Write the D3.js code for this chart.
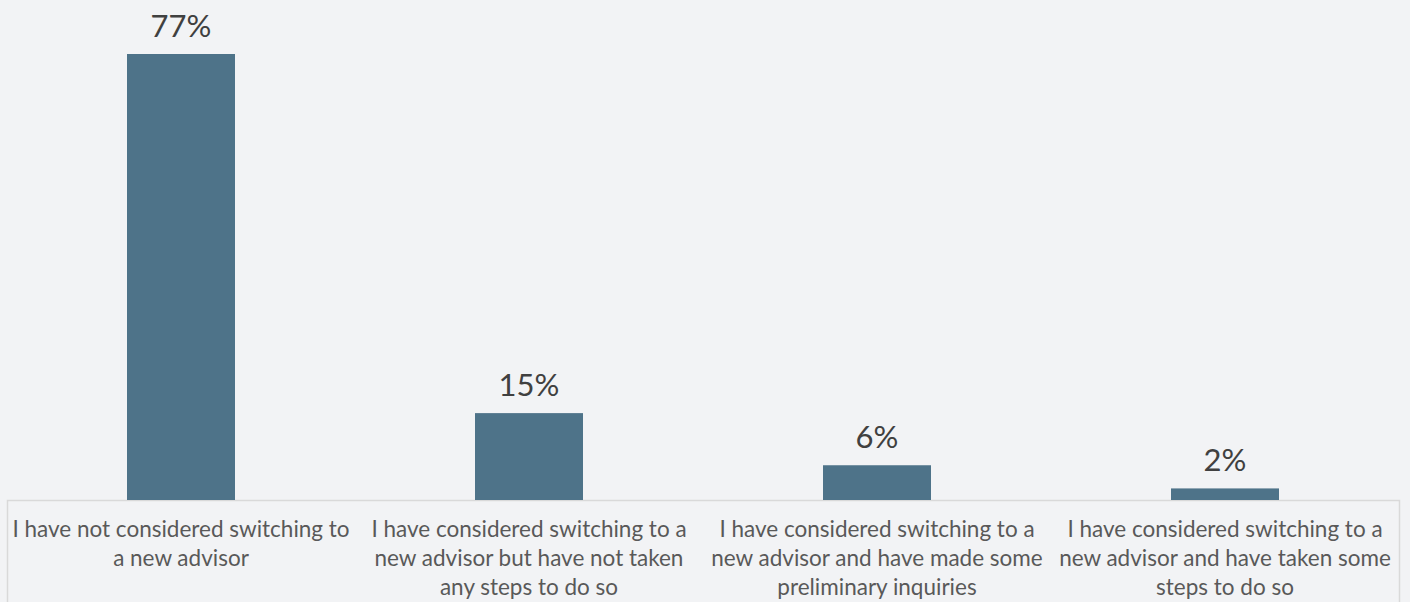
<!DOCTYPE html>
<html>
<head>
<meta charset="utf-8">
<script src="https://cdn.jsdelivr.net/npm/d3@7"></script>
<style>
  html, body { margin: 0; padding: 0; background: #f2f3f5; }
  svg { display: block; }
</style>
</head>
<body>
<svg id="chart" width="1410" height="602"></svg>
<script>
// Survey responses on switching financial advisors
const categories = [
  "I have not considered switching to a new advisor",
  "I have considered switching to a new advisor but have not taken any steps to do so",
  "I have considered switching to a new advisor and have made some preliminary inquiries",
  "I have considered switching to a new advisor and have taken some steps to do so"
];
const categoryLines = [
  ["I have not considered switching to", "a new advisor"],
  ["I have considered switching to a", "new advisor but have not taken", "any steps to do so"],
  ["I have considered switching to a", "new advisor and have made some", "preliminary inquiries"],
  ["I have considered switching to a", "new advisor and have taken some", "steps to do so"]
];
const values = [77, 15, 6, 2];

const svg = d3.select("#chart");
const plot = { left: 7, right: 1399, top: 54, bottom: 500 };

const x = d3.scaleBand()
  .domain(categories)
  .range([plot.left, plot.right])
  .paddingInner(0)
  .paddingOuter(0);

const y = d3.scaleLinear()
  .domain([0, 77])
  .range([plot.bottom, plot.top]);

const barW = 108;

// category box under the axis
svg.append("rect")
  .attr("x", plot.left + 0.5)
  .attr("y", plot.bottom + 0.5)
  .attr("width", plot.right - plot.left)
  .attr("height", 200)
  .attr("fill", "none")
  .attr("stroke", "#d9d9d9")
  .attr("stroke-width", 1.5);

// bars
svg.selectAll("rect.bar")
  .data(values)
  .enter().append("rect")
  .attr("class", "bar")
  .attr("x", (d, i) => x(categories[i]) + x.bandwidth() / 2 - barW / 2)
  .attr("y", d => y(d))
  .attr("width", barW)
  .attr("height", d => y(0) - y(d))
  .attr("fill", "#4e7389");

// value labels
svg.selectAll("text.value")
  .data(values)
  .enter().append("text")
  .attr("class", "value")
  .attr("x", (d, i) => x(categories[i]) + x.bandwidth() / 2)
  .attr("y", d => y(d) - 17)
  .attr("text-anchor", "middle")
  .attr("font-family", "Lato, 'Open Sans', sans-serif")
  .attr("font-size", 31)
  .attr("fill", "#404040")
  .text(d => d + "%");

// category labels
const lab = svg.selectAll("text.cat")
  .data(categoryLines)
  .enter().append("text")
  .attr("class", "cat")
  .attr("text-anchor", "middle")
  .attr("font-family", "Lato, 'Open Sans', sans-serif")
  .attr("font-size", 22.5)
  .attr("fill", "#595959");

lab.selectAll("tspan")
  .data((d, i) => d.map(t => ({ t, i })))
  .enter().append("tspan")
  .attr("x", d => x(categories[d.i]) + x.bandwidth() / 2)
  .attr("y", (d, j) => 537 + j * 29)
  .text(d => d.t);
</script>
</body>
</html>
